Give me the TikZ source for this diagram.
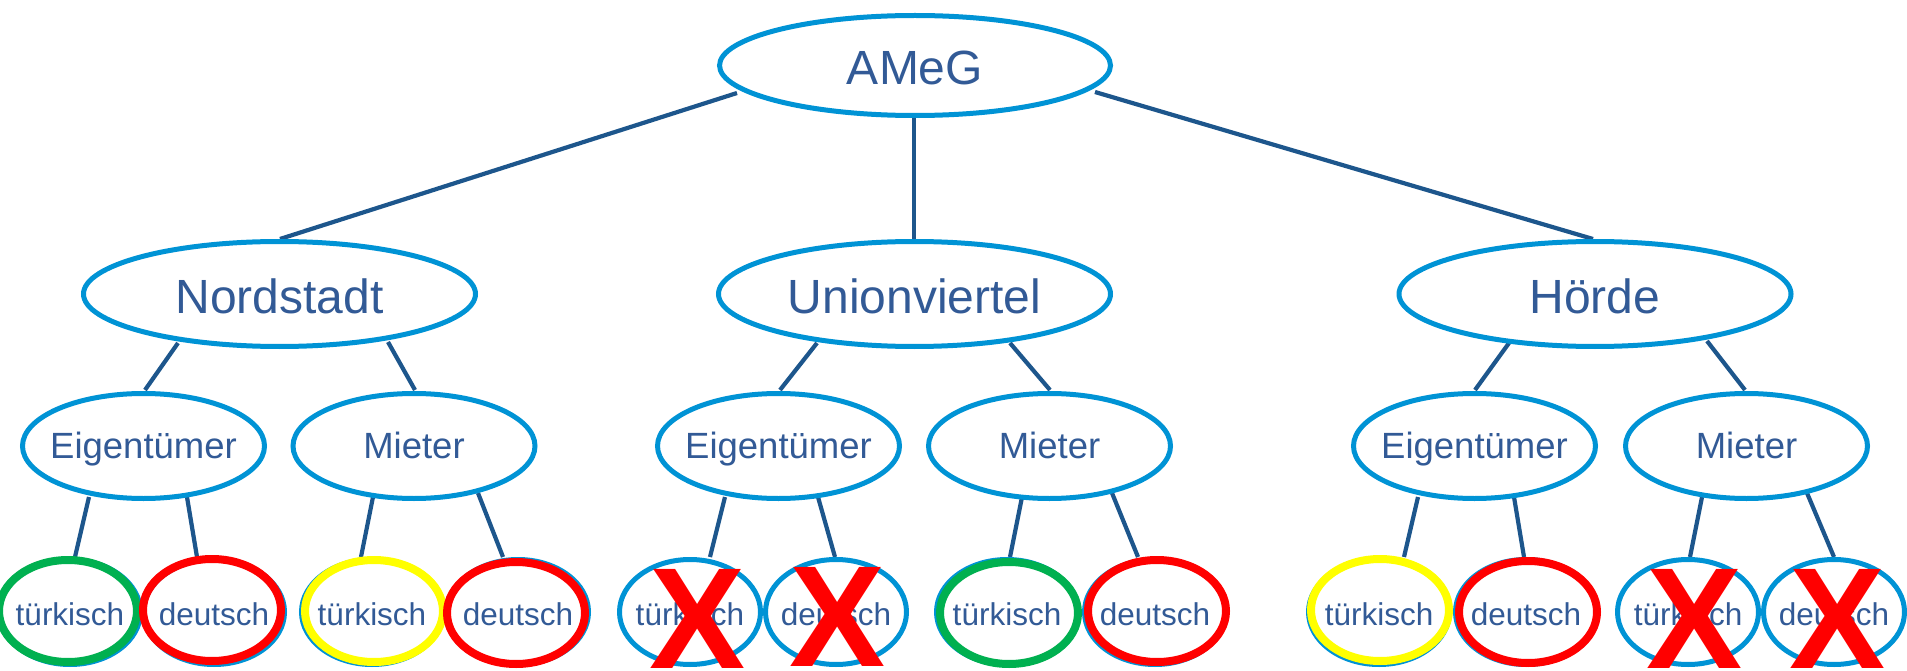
\documentclass[tikz,border=0pt]{standalone}
\usepackage{fontspec}
\setmainfont{Liberation Sans}
\usetikzlibrary{shapes.geometric,backgrounds}
\definecolor{ebl}{HTML}{0093D5}
\definecolor{lnc}{HTML}{1D568C}
\definecolor{txc}{HTML}{325A96}
\definecolor{rgreen}{HTML}{00B050}
\definecolor{rred}{HTML}{FF0000}
\definecolor{ryel}{HTML}{FFFF00}
\newcommand{\zb}[1]{\makebox[0pt]{#1}}
\begin{document}
\begin{tikzpicture}[x=1pt,y=-1pt,
  ell/.style={ellipse, draw=ebl, line width=5pt, fill=white, inner sep=0pt, outer sep=0pt, text=txc, text depth=0pt},
  lvA/.style={ell, minimum width=391pt, minimum height=100pt, font=\fontsize{48}{58}\selectfont, text height=38pt},
  lvB/.style={ell, minimum width=392pt, minimum height=105pt, font=\fontsize{48}{58}\selectfont, text height=38pt},
  lvC/.style={ell, minimum width=242pt, minimum height=105pt, font=\fontsize{36.5}{44}\selectfont, text height=24pt},
  lvD/.style={ell, minimum width=141pt, minimum height=105pt, font=\fontsize{31.5}{38}\selectfont, text height=26pt},
  conn/.style={draw=lnc, line width=4.2pt},
  ring/.style={draw=#1, line width=8pt},
  xmark/.style={text=rred, inner sep=0pt, anchor=base, font=\fontsize{144}{144}\selectfont\bfseries}
]
\useasboundingbox (0,0) rectangle (1907,671);

% level 1 and 2
\node[lvA] (ameg) at (915,65.5) {\zb{AMeG}};
\node[lvB] (nord) at (279.5,294) {\zb{Nordstadt}};
\node[lvB] (union) at (914.5,294) {\zb{Unionviertel}};
\node[lvB] (hoerde) at (1595,294) {\zb{Hörde}};

% level 3
\node[lvC] (eigN) at (143.5,446) {\zb{Eigentümer}};
\node[lvC] (mieN) at (414,446) {\zb{Mieter}};
\node[lvC] (eigU) at (778.5,446) {\zb{Eigentümer}};
\node[lvC] (mieU) at (1049.5,446) {\zb{Mieter}};
\node[lvC] (eigH) at (1474.5,446) {\zb{Eigentümer}};
\node[lvC] (mieH) at (1746.5,446) {\zb{Mieter}};

% level 4
\node[lvD] (tN1) at (70,612) {\zb{türkisch}};
\draw[ring=rgreen] ([shift={(-2,-1)}]tN1.center) ellipse [x radius=69pt, y radius=51pt];
\node[lvD] (dN1) at (214,612) {\zb{deutsch}};
\draw[ring=rred] ([shift={(-2,-2)}]dN1.center) ellipse [x radius=69pt, y radius=51pt];
\node[lvD] (tN2) at (372,612) {\zb{türkisch}};
\draw[ring=ryel] ([shift={(2,-1)}]tN2.center) ellipse [x radius=69pt, y radius=51pt];
\node[lvD] (dN2) at (518,612) {\zb{deutsch}};
\draw[ring=rred] ([shift={(-2,1)}]dN2.center) ellipse [x radius=69pt, y radius=51pt];

\node[lvD] (tU1) at (690,612) {\zb{türkisch}};
\node[lvD] (dU1) at (836,612) {\zb{deutsch}};
\node[lvD] (tU2) at (1007,612) {\zb{türkisch}};
\draw[ring=rgreen] ([shift={(2,1)}]tU2.center) ellipse [x radius=69pt, y radius=51pt];
\node[lvD] (dU2) at (1155,612) {\zb{deutsch}};
\draw[ring=rred] ([shift={(2,-1)}]dU2.center) ellipse [x radius=69pt, y radius=51pt];

\node[lvD] (tH1) at (1379,612) {\zb{türkisch}};
\draw[ring=ryel] ([shift={(1,-2)}]tH1.center) ellipse [x radius=69pt, y radius=51pt];
\node[lvD] (dH1) at (1526,612) {\zb{deutsch}};
\draw[ring=rred] ([shift={(2,0)}]dH1.center) ellipse [x radius=69pt, y radius=51pt];
\node[lvD] (tH2) at (1688,612) {\zb{türkisch}};
\node[lvD] (dH2) at (1834,612) {\zb{deutsch}};

% crosses
\node[xmark] (xU1) at (698,668) {X};
\node[xmark] (xU2) at (838,666) {X};
\node[xmark] (xH1) at (1695,668) {X};
\node[xmark] (xH2) at (1838,668) {X};

% connectors
\begin{scope}[on background layer]
\draw[conn] ([shift={(-178,27.5)}]ameg.center) -- ([shift={(0.5,-55)}]nord.center);
\draw[conn] ([shift={(-1,50)}]ameg.center) -- ([shift={(-0.5,-55)}]union.center);
\draw[conn] ([shift={(180,26.5)}]ameg.center) -- ([shift={(-2,-55)}]hoerde.center);

\draw[conn] ([shift={(-101.5,49)}]nord.center) -- ([shift={(1.5,-56)}]eigN.center);
\draw[conn] ([shift={(108.5,48)}]nord.center) -- ([shift={(1,-56)}]mieN.center);
\draw[conn] ([shift={(-97.5,49)}]union.center) -- ([shift={(1.5,-56)}]eigU.center);
\draw[conn] ([shift={(95.5,49)}]union.center) -- ([shift={(0.5,-56)}]mieU.center);
\draw[conn] ([shift={(-86,49)}]hoerde.center) -- ([shift={(0.5,-56)}]eigH.center);
\draw[conn] ([shift={(112,47)}]hoerde.center) -- ([shift={(-1.5,-56)}]mieH.center);

\draw[conn] ([shift={(-54.5,51)}]eigN.center) -- ([shift={(5,-55)}]tN1.center);
\draw[conn] ([shift={(43.5,51)}]eigN.center) -- ([shift={(-17,-55)}]dN1.center);
\draw[conn] ([shift={(-41,51)}]mieN.center) -- ([shift={(-11,-55)}]tN2.center);
\draw[conn] ([shift={(64,47)}]mieN.center) -- ([shift={(-15,-55)}]dN2.center);
\draw[conn] ([shift={(-53.5,51)}]eigU.center) -- ([shift={(20,-55)}]tU1.center);
\draw[conn] ([shift={(39.5,51)}]eigU.center) -- ([shift={(-1,-55)}]dU1.center);
\draw[conn] ([shift={(-27.5,51)}]mieU.center) -- ([shift={(3,-55)}]tU2.center);
\draw[conn] ([shift={(62.5,47)}]mieU.center) -- ([shift={(-17,-55)}]dU2.center);
\draw[conn] ([shift={(-56.5,51)}]eigH.center) -- ([shift={(25,-55)}]tH1.center);
\draw[conn] ([shift={(39.5,51)}]eigH.center) -- ([shift={(-2,-55)}]dH1.center);
\draw[conn] ([shift={(-44.5,51)}]mieH.center) -- ([shift={(2,-55)}]tH2.center);
\draw[conn] ([shift={(60.5,47)}]mieH.center) -- ([shift={(0,-55)}]dH2.center);
\end{scope}
\end{tikzpicture}
\end{document}
